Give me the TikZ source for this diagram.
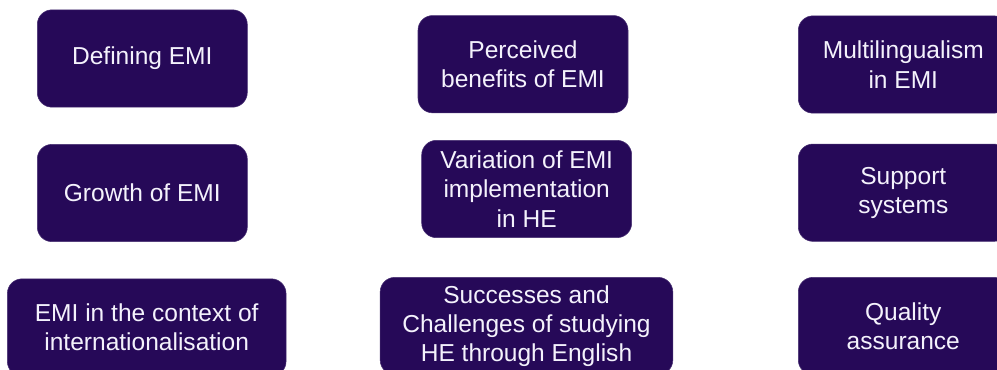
\documentclass[tikz,border=0pt]{standalone}
\usepackage{fontspec}
\setmainfont{Liberation Sans}
\usepackage{tikz}

\definecolor{emiviolet}{RGB}{38,9,88}
\definecolor{emitext}{RGB}{244,242,252}

\begin{document}
\begin{tikzpicture}[x=0.75pt,y=-0.75pt,
  topic/.style={rounded corners=11pt,fill=emiviolet,draw=emiviolet!85!white,line width=0.4pt,
    text=emitext,align=center,inner sep=0pt,minimum height=73pt,
    font=\fontsize{18.4}{22}\selectfont}]
 % canvas, the right and bottom boxes run over its edge
 \useasboundingbox (0,0) rectangle (997,369);
 \clip (0,0) rectangle (997,369);
 \def\cA{142.3}  % left column
 \def\cB{526.5}  % middle column
 \def\cC{903.3}  % right column
 \def\wA{157.5pt}
 \def\wB{157.5pt}
% first row
 \node[topic,minimum width=\wA] (defining) at (\cA,58.5) {Defining EMI};
 \node[topic,minimum width=\wB] (benefits) at (523,64.2) {Perceived\\benefits of EMI};
 \node[topic,minimum width=\wA] (multiling) at (\cC,64.5) {Multilingualism\\in EMI};
% second row
 \node[topic,minimum width=\wA] (growth) at (\cA,193) {Growth of EMI};
 \node[topic,minimum width=\wB] (variation) at (526.7,189) {Variation of EMI\\implementation\\in HE};
 \node[topic,minimum width=\wA] (support) at (\cC,192.7) {Support\\systems};
% third row, wider boxes
 \node[topic,minimum width=209pt] (context) at (146.7,327.5) {EMI in the context of\\internationalisation};
 \node[topic,minimum width=219.5pt] (successes) at (\cB,326) {Successes and\\Challenges of studying\\HE through English};
 \node[topic,minimum width=\wA] (quality) at (\cC,326) {Quality\\assurance};
\end{tikzpicture}
\end{document}
